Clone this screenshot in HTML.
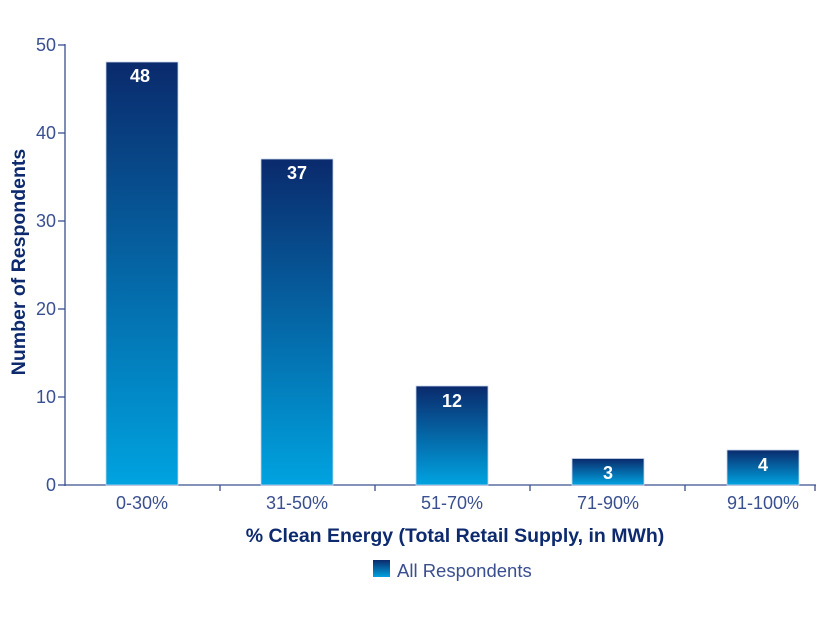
<!DOCTYPE html>
<html><head><style>body{margin:0;background:#fff}svg{display:block}text{font-family:"Liberation Sans",sans-serif}</style></head>
<body>
<svg width="826" height="620" viewBox="0 0 826 620">
<defs><linearGradient id="g" x1="0" y1="0" x2="0" y2="1"><stop offset="0" stop-color="#0a2a6c"/><stop offset="1" stop-color="#00a3e0"/></linearGradient></defs>
<g stroke="#3a4f8f" stroke-width="1.3" fill="none">
<line x1="65" y1="44" x2="65" y2="486"/>
<line x1="65" y1="485" x2="816" y2="485"/>
<line x1="58" y1="45" x2="65" y2="45"/><line x1="58" y1="133" x2="65" y2="133"/><line x1="58" y1="221" x2="65" y2="221"/><line x1="58" y1="309" x2="65" y2="309"/><line x1="58" y1="397" x2="65" y2="397"/><line x1="58" y1="485" x2="65" y2="485"/>
<line x1="220" y1="485" x2="220" y2="491"/><line x1="375" y1="485" x2="375" y2="491"/><line x1="530" y1="485" x2="530" y2="491"/><line x1="685" y1="485" x2="685" y2="491"/><line x1="815" y1="485" x2="815" y2="491"/>
</g>
<g fill="#3a4f8f" font-size="18" text-anchor="end">
<text x="56" y="51">50</text><text x="56" y="139">40</text><text x="56" y="227">30</text><text x="56" y="315">20</text><text x="56" y="403">10</text><text x="56" y="491">0</text>
</g>
<g fill="url(#g)" stroke="#c8d4ea" stroke-width="0.8">
<rect x="106" y="62" width="72" height="423"/>
<rect x="261" y="159" width="72" height="326"/>
<rect x="416" y="386" width="72" height="99"/>
<rect x="572" y="458.5" width="72" height="26.5"/>
<rect x="727" y="450" width="72" height="35"/>
</g>
<g fill="#fff" font-size="18" font-weight="bold" text-anchor="middle">
<text x="140" y="82">48</text><text x="297" y="179">37</text><text x="452" y="407">12</text><text x="608" y="479">3</text><text x="763" y="471">4</text>
</g>
<g fill="#3a4f8f" font-size="18" text-anchor="middle">
<text x="142" y="509">0-30%</text><text x="297" y="509">31-50%</text><text x="452" y="509">51-70%</text><text x="608" y="509">71-90%</text><text x="763" y="509">91-100%</text>
</g>
<text x="455" y="542" fill="#0d2a6e" font-size="19.5" font-weight="bold" text-anchor="middle">% Clean Energy (Total Retail Supply, in MWh)</text>
<text transform="translate(25,262) rotate(-90)" fill="#0d2a6e" font-size="19.5" font-weight="bold" text-anchor="middle">Number of Respondents</text>
<rect x="373" y="560" width="17" height="17" fill="url(#g)"/>
<text x="397" y="577" fill="#3a4f8f" font-size="18.5">All Respondents</text>
</svg>
</body></html>
